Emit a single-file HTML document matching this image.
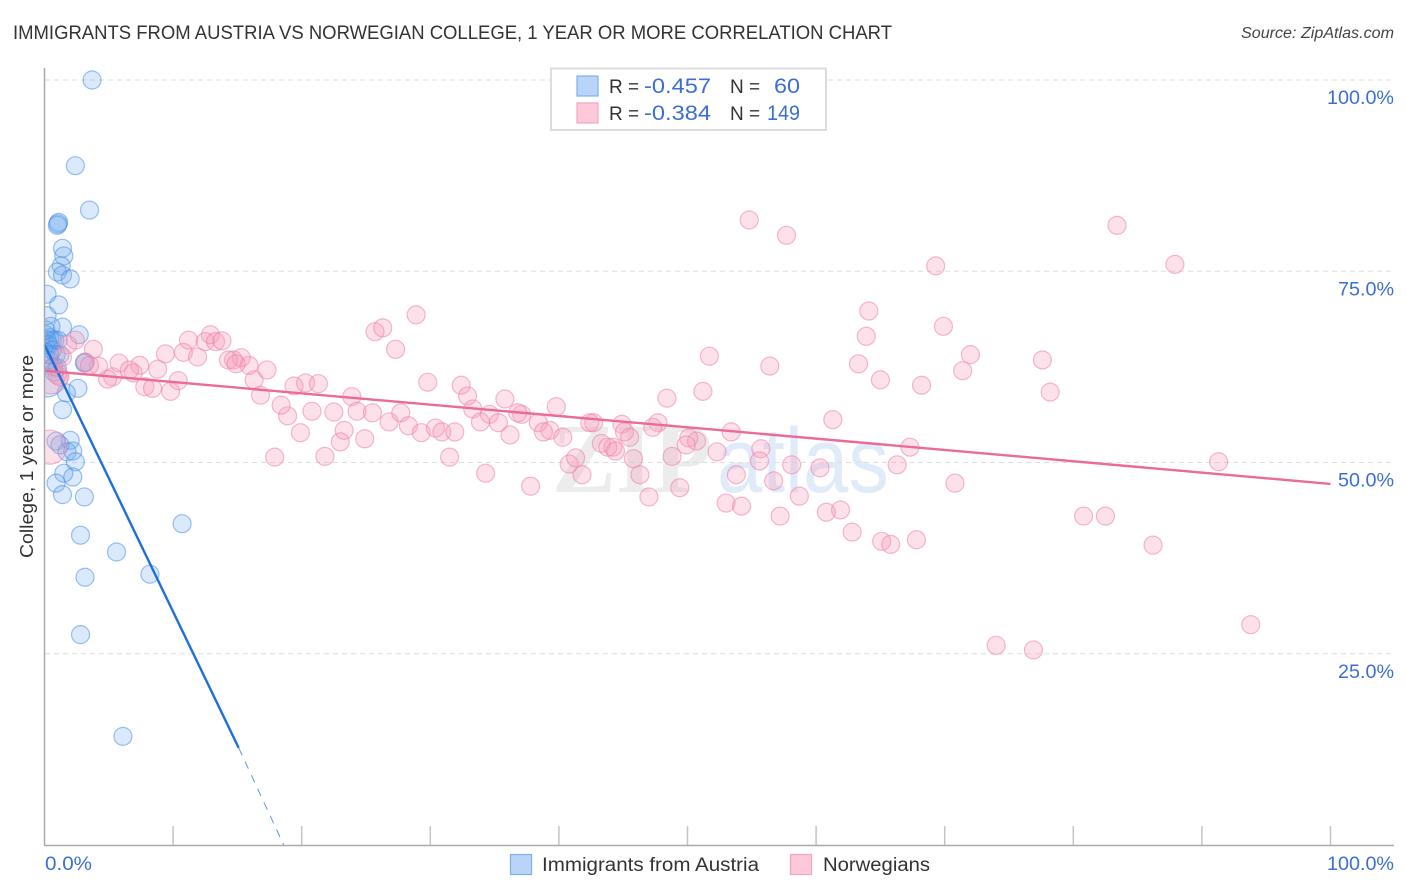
<!DOCTYPE html>
<html lang="en">
<head>
<meta charset="utf-8">
<title>Immigrants from Austria vs Norwegian College Correlation Chart</title>
<style>
html,body{margin:0;padding:0;background:#fff;}
svg{display:block;font-family:"Liberation Sans",sans-serif;}
</style>
</head>
<body>
<svg id="chart" width="1406" height="892" viewBox="0 0 1406 892" xmlns="http://www.w3.org/2000/svg">
  <defs>
    <clipPath id="plot-clip"><rect x="45" y="60" width="1349" height="785"></rect></clipPath>
  </defs>
  <rect x="0" y="0" width="1406" height="892" fill="#ffffff"></rect>
  <text x="13" y="39" font-size="19.5" fill="#333333" textLength="879" lengthAdjust="spacingAndGlyphs">IMMIGRANTS FROM AUSTRIA VS NORWEGIAN COLLEGE, 1 YEAR OR MORE CORRELATION CHART</text>
  <text x="1394" y="38" font-size="15.5" font-style="italic" fill="#444444" text-anchor="end" textLength="153" lengthAdjust="spacingAndGlyphs">Source: ZipAtlas.com</text>

  <g>
    <text x="552" y="492" font-family="'Liberation Serif',serif" font-weight="bold" font-size="100" fill="#ececec" textLength="160" lengthAdjust="spacingAndGlyphs">ZIP</text>
    <text x="717" y="492" font-size="92" fill="#e0ebfa" textLength="172" lengthAdjust="spacingAndGlyphs">atlas</text>
  </g>

  <g id="grid"></g>
  <g id="ticks"></g>
  <g id="blue-points" clip-path="url(#plot-clip)"></g>
  <g id="pink-points" clip-path="url(#plot-clip)"></g>
  <g id="trends"></g>

  <line x1="44.5" y1="68" x2="44.5" y2="845" stroke="#aaaaaa" stroke-width="1.5"></line>
  <line x1="44" y1="845.5" x2="1394" y2="845.5" stroke="#aaaaaa" stroke-width="1.5"></line>

  <text transform="translate(33,456.5) rotate(-90)" font-size="18.5" fill="#333333" text-anchor="middle" textLength="203" lengthAdjust="spacingAndGlyphs">College, 1 year or more</text>
  <g id="y-labels"></g>
  <text x="45" y="870" font-size="19" fill="#3b6fd4" textLength="47" lengthAdjust="spacingAndGlyphs">0.0%</text>
  <text x="1327" y="870" font-size="19" fill="#3b6fd4" textLength="67" lengthAdjust="spacingAndGlyphs">100.0%</text>

  <g>
    <rect x="551" y="68.5" width="275" height="61.5" fill="#ffffff" stroke="#dddddd" stroke-width="2"></rect>
    <rect x="577" y="76" width="21" height="20" fill="#b8d4f8" stroke="#7fb0ea" stroke-width="1.2"></rect>
    <rect x="577" y="103" width="21" height="20" fill="#fcc8da" stroke="#f2a5c0" stroke-width="1.2"></rect>
    <text x="609" y="93" font-size="19" fill="#333333">R =</text>
    <text x="644" y="93" font-size="21" fill="#3b6fd4" textLength="67" lengthAdjust="spacingAndGlyphs">-0.457</text>
    <text x="730" y="93" font-size="19" fill="#333333">N =</text>
    <text x="774" y="93" font-size="21" fill="#3b6fd4" textLength="26" lengthAdjust="spacingAndGlyphs">60</text>
    <text x="609" y="120" font-size="19" fill="#333333">R =</text>
    <text x="644" y="120" font-size="21" fill="#3b6fd4" textLength="67" lengthAdjust="spacingAndGlyphs">-0.384</text>
    <text x="730" y="120" font-size="19" fill="#333333">N =</text>
    <text x="767" y="120" font-size="21" fill="#3b6fd4" textLength="33" lengthAdjust="spacingAndGlyphs">149</text>
  </g>

  <g>
    <rect x="510.5" y="854.5" width="21" height="20" fill="#b8d4f8" stroke="#7fb0ea" stroke-width="1.2"></rect>
    <text x="542" y="871" font-size="19" fill="#333333" textLength="217" lengthAdjust="spacingAndGlyphs">Immigrants from Austria</text>
    <rect x="790.5" y="854.5" width="21" height="20" fill="#fcc8da" stroke="#f2a5c0" stroke-width="1.2"></rect>
    <text x="823" y="871" font-size="19" fill="#333333" textLength="107" lengthAdjust="spacingAndGlyphs">Norwegians</text>
  </g>
</svg>
<script>
const yTickValues = [100, 75, 50, 25];
const yTickLabels = ["100.0%", "75.0%", "50.0%", "25.0%"];
const xTickValues = [10, 20, 30, 40, 50, 60, 70, 80, 90, 100];

const blueX = [3.7,2.4,3.5,1.1,1.0,1.05,1.4,1.5,1.3,1.0,1.4,2.0,0.2,1.1,0.2,0.5,1.4,2.7,0.1,0.4,0.6,0.2,0.8,0.05,1.05,0.3,0.6,0.1,0.9,1.2,0.4,3.15,3.1,0.7,1.0,0.2,2.6,1.7,1.4,0.9,2.0,1.2,1.75,2.2,2.4,1.5,2.2,0.9,1.4,3.1,2.8,10.7,5.6,8.2,3.15,2.8,6.1,0.35,0.1,0.75];
const blueY = [100,88.8,83.0,81.4,81.0,81.2,78.0,77.0,75.7,74.9,74.5,74.0,72.0,70.6,69.2,67.8,67.7,66.7,66.7,66.3,66.0,66.0,66.0,65.4,66.0,65.4,64.7,64.4,64.1,64.1,64.1,63.1,63.0,62.5,62.4,60.8,59.7,59.1,56.9,52.8,52.9,52.3,51.4,51.5,50.1,48.6,48.1,47.3,45.8,45.5,40.5,42.0,38.3,35.4,35.0,27.5,14.2,63.4,67.3,61.8];
const blueLargeIndex = [35];

const pinkX = [54.8,57.7,83.4,87.9,69.3,64.1,63.9,69.9,28.9,25.7,26.3,27.3,51.7,56.4,63.3,72.0,71.4,77.6,65.0,68.2,78.2,51.2,48.4,29.8,32.4,32.9,35.8,33.3,34.6,33.9,37.1,35.3,36.2,38.4,39.8,39.3,38.8,42.7,42.4,44.9,47.7,47.3,45.1,45.5,43.3,44.2,45.8,48.8,50.1,50.7,53.4,52.3,55.7,58.1,60.3,53.8,55.6,56.7,58.7,57.2,60.8,61.9,62.8,65.1,65.8,67.8,70.8,66.3,67.3,61.3,53.0,54.2,49.4,47.0,46.3,41.8,40.8,41.3,37.8,34.3,31.5,17.9,21.8,23.0,23.3,19.9,18.9,18.4,16.3,16.8,17.3,15.9,15.3,14.7,14.3,14.9,20.8,19.4,20.3,21.3,22.5,23.9,24.3,25.5,26.8,27.7,28.3,24.9,29.3,30.4,30.9,31.9,11.2,10.8,11.9,12.5,12.9,13.3,13.8,9.4,8.8,7.4,5.8,6.9,6.6,5.3,4.9,7.8,8.4,9.8,10.4,4.2,3.8,2.4,1.8,1.4,3.15,3.5,1.2,1.0,80.8,82.5,86.2,91.3,93.8,74.0,76.9,0.4,0.5,40.3,43.8,44.4,49.9,36.8];
const pinkY = [81.7,79.7,81.0,75.9,75.7,69.8,66.5,67.8,69.3,67.1,67.6,64.8,63.9,62.6,62.9,64.1,62.0,63.4,60.8,60.1,59.2,59.3,58.4,60.5,60.1,58.7,58.3,57.0,56.3,55.3,56.3,55.2,53.6,55.2,57.3,54.2,54.0,55.2,55.2,55.0,55.2,54.6,54.0,53.3,52.5,52.0,50.5,50.8,53.2,52.8,54.0,51.4,51.8,49.7,49.3,48.4,50.2,47.6,45.6,43.0,43.5,43.8,40.9,39.7,39.3,39.9,47.3,49.7,52.0,55.6,44.7,44.3,46.7,45.5,48.4,48.4,49.8,50.6,46.9,48.6,50.7,50.7,50.8,52.7,54.2,53.9,56.1,57.5,60.8,58.8,62.1,62.7,63.7,63.4,63.4,62.9,56.7,60.0,60.4,60.3,56.6,58.6,56.7,56.5,55.3,56.5,54.8,53.1,53.9,54.5,54.0,54.0,66.0,64.4,63.8,65.8,66.7,65.8,65.9,64.2,62.2,62.7,63.0,61.7,62.1,61.2,60.9,59.9,59.7,59.3,60.7,62.6,64.8,66.0,65.4,63.8,63.1,62.7,61.2,61.4,43.0,43.0,39.2,50.1,28.8,26.1,25.5,52.0,61.2,53.3,52.0,51.5,52.3,56.5];
const pinkLargeIndex = [147, 148];

const blueTrendX = [0, 15.1];
const blueTrendY = [65.4, 12.7];
const blueDashX = [15.1, 18.6];
const blueDashY = [12.7, 0];
const pinkTrendX = [0, 100];
const pinkTrendY = [62.0, 47.2];

function xScale(v) { return 44.5 + v * 12.86; }
function yScale(v) { return 845 - v * 7.65; }

const NS = "http://www.w3.org/2000/svg";

const gridGroup = document.getElementById("grid");
yTickValues.forEach(function (v) {
  const ln = document.createElementNS(NS, "line");
  
  
  ln.setAttribute("x1", 45);
  ln.setAttribute("x2", 1394);
  ln.setAttribute("y1", yScale(v));
  ln.setAttribute("y2", yScale(v));
  ln.setAttribute("stroke", "#dddddd");
  ln.setAttribute("stroke-width", "1");
  ln.setAttribute("stroke-dasharray", "5 4");
  gridGroup.appendChild(ln);
});

const labelGroup = document.getElementById("y-labels");
yTickValues.forEach(function (v, i) {
  const t = document.createElementNS(NS, "text");
  
  
  t.setAttribute("x", 1394);
  t.setAttribute("y", yScale(v) + 24);
  t.setAttribute("text-anchor", "end");
  t.setAttribute("font-size", "19");
  t.setAttribute("fill", "#3b6fd4");
  t.setAttribute("textLength", yTickLabels[i].length === 6 ? 67 : 56);
  t.setAttribute("lengthAdjust", "spacingAndGlyphs");
  t.textContent = yTickLabels[i];
  labelGroup.appendChild(t);
});

const tickGroup = document.getElementById("ticks");
xTickValues.forEach(function (v) {
  const ln = document.createElementNS(NS, "line");
  
  
  ln.setAttribute("x1", xScale(v));
  ln.setAttribute("x2", xScale(v));
  ln.setAttribute("y1", 826);
  ln.setAttribute("y2", 845);
  ln.setAttribute("stroke", "#c4c4c4");
  ln.setAttribute("stroke-width", "1.5");
  tickGroup.appendChild(ln);
});

function drawPoints(groupId, xs, ys, largeIdx, fill, stroke, fillAlpha, strokeAlpha) {
  const g = document.getElementById(groupId);
  xs.forEach(function (x, i) {
    const c = document.createElementNS(NS, "circle");
    
    
    c.setAttribute("cx", xScale(x));
    c.setAttribute("cy", yScale(ys[i]));
    c.setAttribute("r", largeIdx.indexOf(i) >= 0 ? 17 : 9);
    c.setAttribute("fill", fill);
    c.setAttribute("fill-opacity", fillAlpha);
    c.setAttribute("stroke", stroke);
    c.setAttribute("stroke-opacity", strokeAlpha);
    c.setAttribute("stroke-width", "1.2");
    g.appendChild(c);
  });
}
drawPoints("blue-points", blueX, blueY, blueLargeIndex, "#6aa8f0", "#4a90e2", 0.25, 0.55);
drawPoints("pink-points", pinkX, pinkY, pinkLargeIndex, "#f59abb", "#ee7fa6", 0.3, 0.55);

function drawLine(xs, ys, color, width, dash) {
  const ln = document.createElementNS(NS, "line");
  
  
  ln.setAttribute("x1", xScale(xs[0]));
  ln.setAttribute("y1", yScale(ys[0]));
  ln.setAttribute("x2", xScale(xs[1]));
  ln.setAttribute("y2", yScale(ys[1]));
  ln.setAttribute("stroke", color);
  ln.setAttribute("stroke-width", width);
  if (dash) ln.setAttribute("stroke-dasharray", dash);
  document.getElementById("trends").appendChild(ln);
}
drawLine(blueTrendX, blueTrendY, "#1f6fd8", 2.4);
drawLine(blueDashX, blueDashY, "#5f97e2", 1, "8 7");
drawLine(pinkTrendX, pinkTrendY, "#ec6a97", 2.4);
</script>
</body>
</html>
